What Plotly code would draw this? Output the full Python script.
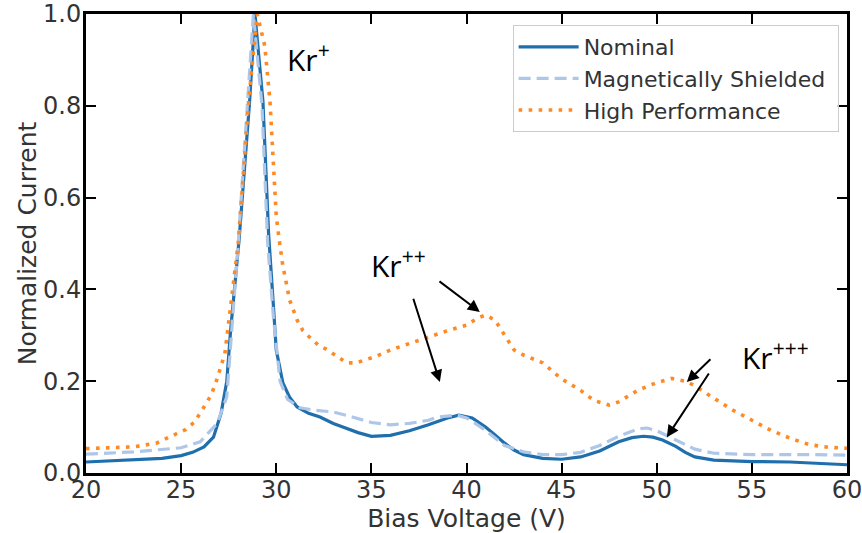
import plotly.graph_objects as go

# Nominal
nom_v = [20, 21, 22.5, 24, 25, 25.6, 26.2, 26.7, 27.1, 27.4, 27.6, 28.05, 28.6, 28.88,
         29.3, 29.6, 29.83, 30.0, 30.35, 30.7, 31.1, 31.7, 32.3, 33.0, 33.5, 34.3, 35.0,
         36.0, 37.0, 38.0, 39.0, 39.6, 40.3, 41.0, 41.5, 42.0, 42.5, 43.0, 44.0, 45.0,
         46.0, 47.0, 48.0, 48.7, 49.3, 49.8, 50.3, 51.0, 51.5, 52.0, 53.0, 55.0, 57.0, 58.0, 60.0]
nom_i = [0.024, 0.026, 0.028, 0.032, 0.038, 0.045, 0.057, 0.078, 0.13, 0.2, 0.31, 0.51, 0.81, 1.0,
         0.81, 0.52, 0.377, 0.268, 0.196, 0.165, 0.144, 0.13, 0.122, 0.108, 0.1, 0.088, 0.08,
         0.082, 0.092, 0.105, 0.12, 0.126, 0.12, 0.1, 0.083, 0.065, 0.05, 0.04, 0.032, 0.03,
         0.035, 0.048, 0.068, 0.077, 0.08, 0.078, 0.072, 0.058, 0.045, 0.035, 0.028, 0.025, 0.024, 0.022, 0.018]

# Magnetically Shielded
ms_v = [20, 22.5, 25, 26.0, 26.9, 27.4, 28.0, 28.5, 28.8, 29.25, 29.55, 29.85, 30.2, 30.6,
        31.25, 32.0, 33.0, 34.0, 35.0, 36.0, 37.0, 38.0, 38.5, 39.5, 40.0, 40.5, 41.0, 42.0,
        43.0, 44.0, 45.0, 46.0, 47.0, 48.0, 49.0, 49.5, 50.0, 51.0, 52.0, 53.0, 55.0, 58.0, 60.0]
ms_i = [0.041, 0.046, 0.055, 0.068, 0.108, 0.166, 0.5, 0.8, 1.0, 0.8, 0.5, 0.34, 0.2, 0.16,
        0.142, 0.137, 0.133, 0.122, 0.11, 0.105, 0.108, 0.115, 0.122, 0.126, 0.12, 0.107, 0.093, 0.06,
        0.046, 0.04, 0.04, 0.045, 0.06, 0.08, 0.096, 0.098, 0.092, 0.072, 0.052, 0.043, 0.04, 0.04, 0.039]

# High Performance
hp_v = [20, 22.5, 23.7, 24.7, 25.25, 25.7, 26.0, 26.3, 26.6, 26.85, 27.15, 27.3, 28.0, 28.55,
        29.0, 29.4, 29.67, 29.83, 30.0, 30.15, 30.35, 30.5, 30.7, 31.1, 31.4, 31.8, 32.2, 32.7,
        33.7, 34.2, 35.3, 36.0, 37.0, 38.0, 39.0, 40.0, 40.6, 41.0, 41.5, 42.0, 42.5, 43.0,
        44.0, 45.0, 46.0, 46.7, 47.5, 48.0, 49.0, 50.0, 50.8, 51.5, 52.0, 53.0, 54.0, 55.0,
        56.0, 57.0, 58.0, 59.0, 60.0]
hp_i = [0.053, 0.057, 0.065, 0.085, 0.095, 0.111, 0.13, 0.15, 0.172, 0.2, 0.24, 0.26, 0.5, 0.81,
        1.0, 0.93, 0.81, 0.68, 0.56, 0.51, 0.45, 0.42, 0.377, 0.333, 0.31, 0.294, 0.279, 0.268,
        0.24, 0.24, 0.255, 0.268, 0.283, 0.296, 0.31, 0.322, 0.338, 0.344, 0.333, 0.3, 0.268, 0.257,
        0.24, 0.205, 0.18, 0.158, 0.148, 0.155, 0.18, 0.197, 0.206, 0.2, 0.19, 0.163, 0.137, 0.115,
        0.093, 0.076, 0.062, 0.056, 0.054]

series_names = ["Nominal", "Magnetically Shielded", "High Performance"]
x_ticks = [20, 25, 30, 35, 40, 45, 50, 55, 60]
y_ticks = [0.0, 0.2, 0.4, 0.6, 0.8, 1.0]

pad = "\u00a0"
fig = go.Figure()
fig.add_trace(go.Scatter(x=nom_v, y=nom_i, mode="lines", name=series_names[0] + pad,
                         line=dict(color="#1f6fad", width=3.2)))
fig.add_trace(go.Scatter(x=ms_v, y=ms_i, mode="lines", name=series_names[1] + pad,
                         line=dict(color="#aec7e8", width=3.2, dash="12px,6px")))
fig.add_trace(go.Scatter(x=hp_v, y=hp_i, mode="lines", name=series_names[2] + pad,
                         line=dict(color="#ff8a24", width=3.6, dash="3.6px,6.4px")))

ann_font = dict(family="Open Sans, Noto Sans, sans-serif", size=30, color="black")
labels = [("Kr<sup>+</sup>", 31.67, 0.905), ("Kr<sup>++</sup>", 36.4, 0.455),
          ("Kr<sup>+++</sup>", 56.26, 0.255)]
for t, xv, yv in labels:
    fig.add_annotation(x=xv, y=yv, text=t, showarrow=False, font=ann_font,
                       xref="x", yref="y")

arrows = [(38.5, 0.420, 40.7, 0.351), (37.18, 0.383, 38.6, 0.198),
          (52.9, 0.251, 51.58, 0.198), (52.79, 0.220, 50.53, 0.078)]
for x0, y0, x1, y1 in arrows:
    fig.add_annotation(x=x1, y=y1, ax=x0, ay=y0, xref="x", yref="y", axref="x", ayref="y",
                       text="", showarrow=True, arrowhead=2, arrowsize=1.2, arrowwidth=2,
                       arrowcolor="black")

axis_common = dict(showline=True, linewidth=3, linecolor="black", mirror="ticks",
                   ticks="inside", ticklen=10, tickwidth=2, tickcolor="black",
                   showgrid=False, zeroline=False, automargin=False,
                   ticklabeloverflow="allow",
                   tickfont=dict(family="DejaVu Sans", size=24, color="#333"),
                   title_font=dict(family="DejaVu Sans", size=25, color="#333"))

fig.update_xaxes(range=[20, 60], tickvals=x_ticks, title_text="Bias Voltage (V)",
                 title_standoff=0, ticklabelstandoff=-7, **axis_common)
fig.update_yaxes(range=[0, 1], tickvals=y_ticks, tickformat=".1f",
                 title_text="Normalized Current", title_standoff=0,
                 ticklabelstandoff=-3, **axis_common)

fig.update_layout(
    width=862, height=533,
    margin=dict(l=86, r=15, t=14, b=60),
    plot_bgcolor="white", paper_bgcolor="white",
    legend=dict(x=0.989, y=0.976, xanchor="right", yanchor="top",
                bgcolor="rgba(255,255,255,0.8)", bordercolor="#cccccc", borderwidth=1,
                font=dict(family="DejaVu Sans", size=22, color="#333"),
                itemwidth=60, tracegroupgap=0),
)

fig.write_html("out.html")
